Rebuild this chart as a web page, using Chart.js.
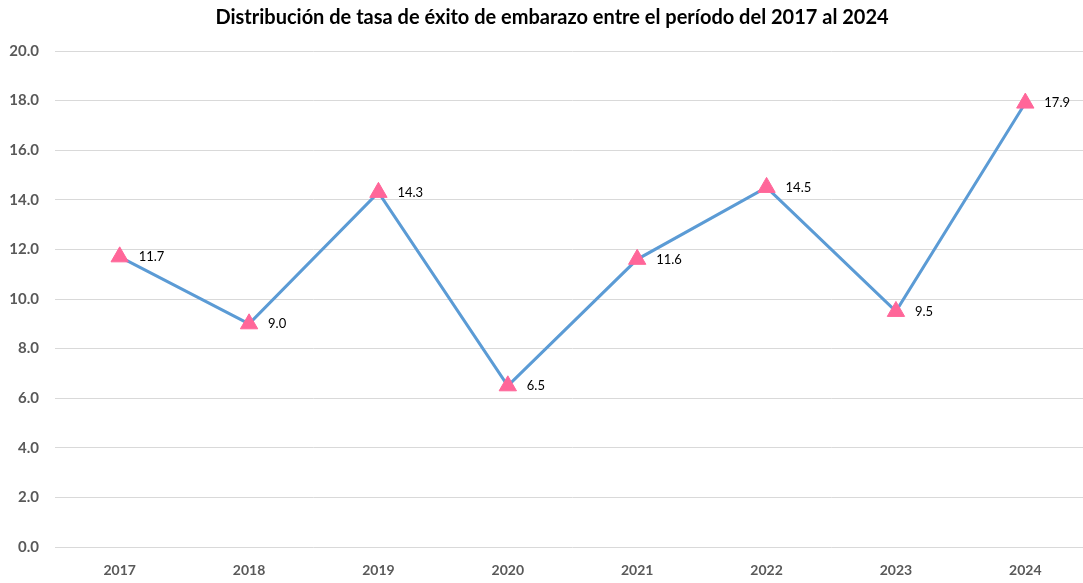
<!DOCTYPE html>
<html>
<head>
<meta charset="utf-8">
<script src="https://cdn.jsdelivr.net/npm/chart.js@4"></script>
<style>
  html, body { margin: 0; padding: 0; background: #fff; overflow: hidden; }
  canvas { display: block; }
</style>
</head>
<body>
<canvas id="chartTasa" width="1090" height="583"></canvas>
<script>
// Datos del gráfico
const titulo = 'Distribución de tasa de éxito de embarazo entre el período del 2017 al 2024';
const anios = ['2017', '2018', '2019', '2020', '2021', '2022', '2023', '2024'];
const tasaExito = [11.7, 9.0, 14.3, 6.5, 11.6, 14.5, 9.5, 17.9];
const yTicks = [0, 2, 4, 6, 8, 10, 12, 14, 16, 18, 20];

// Etiquetas de valor a la derecha de cada punto + título centrado
const etiquetasValor = {
  id: 'etiquetasValor',
  afterDatasetsDraw(chart) {
    const ctx = chart.ctx;
    const meta = chart.getDatasetMeta(0);
    ctx.save();
    ctx.font = '13px Lato';
    ctx.fillStyle = '#000';
    ctx.textAlign = 'left';
    ctx.textBaseline = 'middle';
    meta.data.forEach((pt, i) => {
      ctx.fillText(tasaExito[i].toFixed(1), pt.x + 19, pt.y);
    });
    // título
    ctx.font = 'bold 20px Lato';
    ctx.textAlign = 'center';
    ctx.fillText(titulo, 552, 18);
    ctx.restore();
  }
};

const ctxTasa = document.getElementById('chartTasa').getContext('2d');
const chartTasa = new Chart(ctxTasa, {
  type: 'line',
  data: {
    labels: anios,
    datasets: [{
      label: 'Tasa de éxito',
      data: tasaExito,
      borderColor: '#5B9BD5',
      borderWidth: 3,
      pointStyle: 'triangle',
      pointRadius: 10,
      pointHoverRadius: 10,
      pointBackgroundColor: '#FF6699',
      pointBorderColor: '#FF6699',
      pointBorderWidth: 1,
      tension: 0
    }]
  },
  options: {
    responsive: false,
    animation: false,
    layout: { autoPadding: false, padding: { left: 0, right: 0, top: 51, bottom: 0 } },
    plugins: {
      legend: { display: false },
      tooltip: { enabled: false },
      title: { display: false }
    },
    scales: {
      x: {
        offset: true,
        grid: { display: false },
        border: { display: false },
        afterFit(scale) {
          scale.height = 36;
          scale.paddingLeft = 0;
          scale.paddingRight = 0;
        },
        ticks: {
          color: '#595959',
          font: { family: 'Lato', size: 14, weight: 'bold' },
          padding: 7
        }
      },
      y: {
        min: 0,
        max: 20,
        afterBuildTicks(scale) {
          scale.ticks = yTicks.map(v => ({ value: v }));
        },
        afterFit(scale) {
          scale.width = 55;
          scale.paddingTop = 0;
          scale.paddingBottom = 0;
        },
        grid: { color: '#D9D9D9', lineWidth: 1, drawTicks: false },
        border: { display: false },
        ticks: {
          color: '#595959',
          font: { family: 'Lato', size: 15, weight: 'bold' },
          padding: 16,
          callback: v => Number(v).toFixed(1)
        }
      }
    }
  },
  plugins: [etiquetasValor]
});
</script>
</body>
</html>
